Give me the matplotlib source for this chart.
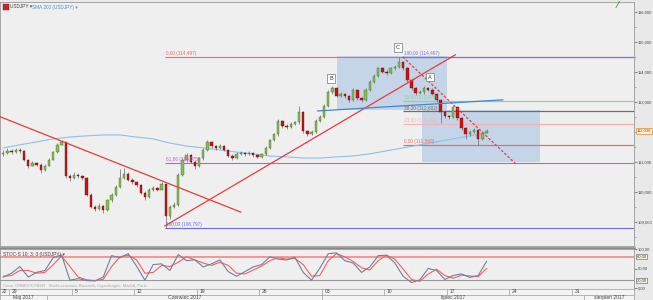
import numpy as np
import matplotlib
matplotlib.use("Agg")
import matplotlib.pyplot as plt
from matplotlib.patches import Rectangle
from matplotlib.ticker import FixedLocator, FuncFormatter

plt.rcParams["font.family"] = ["Liberation Sans", "DejaVu Sans"]

# ---------------- data ----------------
first_open = 111.25
closes = [111.30,111.37,111.33,111.40,111.37,111.07,110.87,110.97,110.90,110.73,
          110.87,111.07,111.33,111.57,111.67,110.53,110.47,110.57,110.53,110.47,
          109.90,109.50,109.43,109.53,109.40,109.73,109.90,110.17,110.47,110.60,
          110.40,110.33,110.23,109.97,109.83,110.07,110.13,110.07,110.27,109.20,
          109.50,109.57,110.57,111.07,111.23,111.00,110.87,111.13,111.40,111.67,
          111.53,111.47,111.53,111.40,111.20,111.13,111.27,111.30,111.27,111.30,
          111.23,111.17,111.27,111.47,111.73,111.93,112.37,112.20,112.17,112.27,
          112.33,112.67,112.03,111.93,112.00,112.37,112.50,112.87,113.33,113.47,
          113.20,113.27,113.20,113.07,113.40,113.13,113.07,113.40,113.67,113.87,
          114.13,114.00,113.97,114.13,114.17,114.33,114.13,113.73,113.47,113.30,
          113.33,113.47,113.40,113.27,113.07,112.67,112.53,112.50,112.83,112.47,
          112.13,111.93,112.00,112.07,111.77,111.97,112.04]
highs = [111.40,111.45,111.42,111.47,111.45,111.40,111.10,111.02,111.00,110.95,
         110.92,111.12,111.38,111.62,111.73,111.68,110.60,110.65,110.62,110.58,
         110.50,109.95,109.55,109.62,109.58,109.78,109.98,110.22,110.75,110.80,
         110.65,110.45,110.38,110.28,110.02,110.12,110.20,110.16,110.33,110.30,
         109.58,109.68,110.62,111.12,111.30,111.25,111.05,111.18,111.45,111.73,
         111.70,111.58,111.60,111.55,111.42,111.25,111.32,111.36,111.34,111.35,
         111.32,111.25,111.31,111.52,111.78,111.98,112.42,112.40,112.25,112.32,
         112.38,112.87,112.70,112.08,112.05,112.42,112.55,112.92,113.40,113.52,
         113.50,113.32,113.30,113.24,113.45,113.42,113.17,113.45,113.72,113.92,
         114.18,114.15,114.05,114.18,114.22,114.50,114.38,114.15,113.78,113.50,
         113.40,113.52,113.50,113.45,113.30,113.10,112.72,112.58,112.88,112.88,
         112.50,112.18,112.06,112.12,112.10,112.02,112.10]
lows = [111.20,111.28,111.28,111.30,111.30,111.02,110.80,110.85,110.85,110.62,
        110.70,110.85,111.05,111.30,111.55,110.48,110.38,110.42,110.45,110.40,
        109.85,109.45,109.35,109.40,109.30,109.38,109.68,109.85,110.12,110.42,
        110.35,110.28,110.18,109.92,109.72,109.80,110.02,110.02,110.05,108.80,
        109.10,109.45,109.52,110.52,111.00,110.95,110.78,110.82,111.08,111.35,
        111.48,111.40,111.42,111.35,111.15,111.08,111.10,111.22,111.20,111.24,
        111.18,111.12,111.14,111.22,111.42,111.70,111.88,112.12,112.10,112.12,
        112.22,112.28,111.98,111.85,111.90,111.95,112.32,112.45,112.82,113.28,
        113.15,113.15,113.12,113.00,113.02,113.08,113.00,113.02,113.35,113.62,
        113.82,113.95,113.90,113.92,114.08,114.12,114.08,113.65,113.40,113.22,
        113.25,113.28,113.35,113.22,113.00,112.30,112.45,112.42,112.45,112.40,
        112.08,111.75,111.88,111.95,111.57,111.74,111.95]

# SMA 200 sampled every 4th bar
sma_values = [111.47,111.57,111.67,111.77,111.83,111.87,111.90,111.90,111.83,111.77,
              111.63,111.53,111.47,111.40,111.33,111.27,111.20,111.17,111.13,111.13,
              111.17,111.20,111.27,111.37,111.47,111.57,111.67,111.77,111.87,111.97]

# Stochastic (every 2nd bar)
stoch_k = [28,38,55,28,40,45,78,85,20,24,
           19,18,28,83,78,88,56,20,60,62,
           45,86,70,72,54,62,72,42,30,42,
           54,60,80,74,72,79,40,20,51,88,
           90,70,64,40,54,83,84,64,30,14,
           21,50,45,22,32,36,27,32,68]
stoch_d = [30,32,45,45,38,40,60,82,55,28,
           21,19,22,55,80,84,72,38,40,58,
           55,66,80,72,64,58,66,58,38,36,
           46,56,70,78,74,76,60,30,32,70,
           88,80,68,52,46,70,84,74,48,22,
           17,36,48,32,25,33,31,29,50]

last_price = 112.038

price_ticks = [109, 110, 111, 113, 114, 115, 116]
stoch_ticks = [0, 50, 100]
stoch_levels = [80, 20]

week_labels = ["29", "5", "12", "19", "26", "03", "10", "17", "24", "31"]
week_days = [0, 5, 10, 15, 20, 25, 30, 35, 40, 45]
month_labels = ["Maj 2017", "Czerwiec 2017", "lipiec 2017", "sierpień 2017"]
month_start_days = [3, 25, 46]

fib1_start = 38.8
fib1_levels = [("0,00 (114,497)", 114.497, "#f06a6a"),
               ("61,80 (110,975)", 110.975, "#b865c8"),
               ("100,00 (108,797)", 108.797, "#6b6bea")]
fib2_start = 95.9
fib2_levels = [("100,00 (114,497)", 114.497, "#7474ee"),
               ("50,00 (113,029)", 113.029, "#98cf98"),
               ("38,20 (112,682)", 112.682, "#6e6e6e"),
               ("23,60 (112,253)", 112.253, "#f2b4b4"),
               ("0,00 (111,560)", 111.560, "#f06a6a")]

trendlines = [((-1.0, 112.52), (57.0, 109.33), "#ea3a3a", "-"),
              ((38.8, 108.87), (108.5, 114.57), "#ea3a3a", "-"),
              ((95.9, 114.50), (123.3, 110.90), "#ea3a3a", (0, (2, 1.5))),
              ((75.5, 112.70), (119.9, 113.07), "#3f86d6", "-")]

boxes = [(80.0, 112.73, 106.4, 114.53), (100.5, 111.00, 128.8, 112.73)]

wave_labels = [("B", 78.7, 113.77), ("C", 94.7, 114.80), ("A", 102.4, 113.83)]

# ---------------- figure ----------------
W, H = 653, 300
fig = plt.figure(figsize=(W / 100, H / 100), dpi=100, facecolor="#e9e9e9")
XMIN, XMAX = -0.78, 151.4
axw = 634 / W

ax = fig.add_axes([0, 1 - 246 / H, axw, 244 / H], facecolor="#efefef")
ax2 = fig.add_axes([0, 1 - 289 / H, axw, 41 / H], facecolor="#efefef")
axd = fig.add_axes([0, 0, axw, 11 / H], facecolor="#f4f4f4")

n = len(closes)
idx = np.arange(n)
c = np.array(closes)
o = np.array([first_open] + closes[:-1])
hi = np.maximum(np.array(highs), np.maximum(o, c))
lo = np.minimum(np.array(lows), np.minimum(o, c))

# boxes
for x0, y0, x1, y1 in boxes:
    ax.add_patch(Rectangle((x0, y0), x1 - x0, y1 - y0, facecolor="#c3d5e6",
                           edgecolor="none", zorder=0.5))

# fib lines
for lab, lev, col in fib1_levels:
    ax.hlines(lev, fib1_start, XMAX, color=col, lw=0.8, zorder=1)
    ax.text(fib1_start + 0.3, lev + 0.03, lab, color=col, fontsize=3.4,
            ha="left", va="bottom", zorder=5)
for lab, lev, col in fib2_levels:
    ax.hlines(lev, fib2_start, XMAX, color=col, lw=0.9, zorder=1.1)
    ax.text(fib2_start + 0.3, lev + 0.03, lab, color=col, fontsize=3.4,
            ha="left", va="bottom", zorder=5)

# SMA
sma_idx = np.arange(0, n, 4)
ax.plot(sma_idx, sma_values, color="#8ec0e8", lw=0.8, zorder=1.5)

# candles
up = c >= o
ax.vlines(idx, lo, hi, color="#6a6a6a", lw=0.5, zorder=2)
ax.bar(idx[up], (c - o)[up], bottom=o[up], width=0.58, color="#86bf4f",
       edgecolor="#3d5a25", linewidth=0.25, zorder=3)
ax.bar(idx[~up], (c - o)[~up], bottom=o[~up], width=0.58, color="#d40f0f",
       edgecolor="#4a1010", linewidth=0.25, zorder=3)

# trendlines
for (x0, y0), (x1, y1), col, ls in trendlines:
    ax.plot([x0, x1], [y0, y1], color=col, lw=0.9, ls=ls, zorder=4)

for lab, x, y in wave_labels:
    ax.text(x, y, lab, fontsize=4.0, ha="center", va="center", color="#333",
            bbox=dict(boxstyle="square,pad=0.35", fc="white", ec="#777", lw=0.5),
            zorder=6)

ax.set_xlim(XMIN, XMAX)
ax.set_ylim(108.2, 116.33)
ax.set_xticks([])
ax.yaxis.tick_right()
ax.yaxis.set_major_locator(FixedLocator(price_ticks))
ax.yaxis.set_minor_locator(FixedLocator(np.arange(108.5, 116.4, 0.5)))
ax.yaxis.set_major_formatter(FuncFormatter(lambda v, p: f"{v:.3f}".replace(".", ",")))
ax.tick_params(axis="y", which="major", labelsize=3.0, length=2.0, width=0.5,
               pad=0.8, colors="#555", labelcolor="#444")
ax.tick_params(axis="y", which="minor", length=1.3, width=0.4, colors="#777")
for s in ax.spines.values():
    s.set_color("#9a9a9a"); s.set_linewidth(0.6)

ax.annotate(f"{last_price:.3f}".replace(".", ","), xy=(1.0, last_price),
            xycoords=("axes fraction", "data"), xytext=(1.8, 0),
            textcoords="offset points", fontsize=3.0, color="#d02000",
            ha="left", va="center",
            bbox=dict(boxstyle="square,pad=0.2", fc="#fff6e0", ec="#e08a2a", lw=0.5),
            annotation_clip=False, zorder=10)

# header
fig.add_artist(Rectangle((3 / W, 1 - 10 / H), 6 / W, 6 / H, transform=fig.transFigure,
                         facecolor="#c0282d", edgecolor="#802020", lw=0.3))
fig.text(10.5 / W, 1 - 7 / H, "USDJPY ▾", fontsize=3.4, color="#444", va="center")
fig.text(32 / W, 1 - 7 / H, "SMA 200 (USDJPY) ▾", fontsize=3.4, color="#4a90d0",
         va="center")
fig.text(617 / W, 1 - 6 / H, "⁄", fontsize=6, color="#3a9a3a", va="center",
         ha="center", fontweight="bold", family="DejaVu Sans")

# stochastic panel
sx = np.arange(0, n, 2)
for lv, col, lw in zip(stoch_levels, ["#f09090", "#9a9a9a"], [1.3, 0.8]):
    ax2.axhline(lv, color=col, lw=lw, zorder=1)
ax2.plot(sx, stoch_d, color="#ff5c5c", lw=0.8, zorder=2)
ax2.plot(sx, stoch_k, color="#6f80a2", lw=0.8, zorder=3)
ax2.set_xlim(XMIN, XMAX)
ax2.set_ylim(-2.6, 102.6)
ax2.set_xticks([])
ax2.yaxis.tick_right()
ax2.set_yticks(stoch_ticks)
ax2.yaxis.set_major_formatter(FuncFormatter(lambda v, p: f"{v:.2f}".replace(".", ",")))
ax2.tick_params(axis="y", labelsize=3.0, length=2.0, width=0.5, pad=0.8,
                colors="#555", labelcolor="#444")
for s in ax2.spines.values():
    s.set_color("#9a9a9a"); s.set_linewidth(0.6)
ax2.spines["top"].set_color("#8a8a8a"); ax2.spines["top"].set_linewidth(1.8)
for lv in stoch_levels:
    ax2.annotate(f"{lv:.2f}".replace(".", ","), xy=(1.0, lv),
                 xycoords=("axes fraction", "data"), xytext=(1.8, 0),
                 textcoords="offset points", fontsize=3.0, color="#444",
                 ha="left", va="center",
                 bbox=dict(boxstyle="square,pad=0.15", fc="#f7f3e0", ec="#777", lw=0.5),
                 annotation_clip=False)
ax2.text(0.005, 0.9, "STOC-S 10; 3; 3 (USDJPY) ▾", transform=ax2.transAxes,
         fontsize=3.4, color="#444", va="top")
ax2.text(0.005, 0.02, "Cena: ORBEX/CYBER   Strefa czasowa: Brussels, Copenhagen, Madrid, Paris",
         transform=ax2.transAxes, fontsize=3.0, color="#a8a8a8", va="bottom")

# date axis
axd.set_xlim(XMIN, XMAX)
axd.set_ylim(0, 2)
axd.set_xticks([]); axd.set_yticks([])
for s in axd.spines.values():
    s.set_color("#9a9a9a"); s.set_linewidth(0.5)
axd.axhline(1, color="#9a9a9a", lw=0.5)
axd.text(XMIN + 0.3, 1.5, "22", fontsize=3.6, color="#444", va="center")
for lab, d in zip(week_labels, week_days):
    k = 1.5 + 3 * d
    axd.vlines(k, 1, 2, color="#9a9a9a", lw=0.5)
    axd.text(k + 0.6, 1.5, lab, fontsize=3.6, color="#444", va="center", ha="left")
mb = [XMIN] + [1.5 + 3 * d for d in month_start_days] + [XMAX]
for i, lab in enumerate(month_labels):
    if 0 < i:
        axd.vlines(mb[i], 0, 1, color="#9a9a9a", lw=0.5)
    axd.text((mb[i] + mb[i + 1]) / 2, 0.5, lab, fontsize=3.6, color="#444",
             va="center", ha="center")

fig.savefig("out.png", dpi=100, facecolor=fig.get_facecolor())
